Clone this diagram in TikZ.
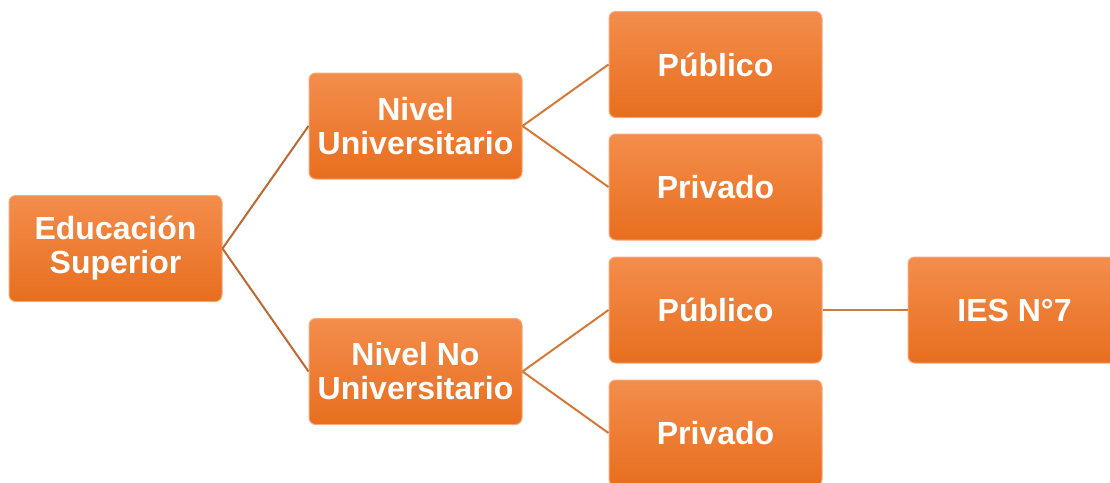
\documentclass[tikz,border=0pt]{standalone}
\usepackage{fontspec}
\setmainfont{Liberation Sans}

\tikzset{
    caja/.style={rounded corners=5pt, minimum width=159.75pt, minimum height=79.5pt,
        top color={rgb,255:red,243;green,141;blue,76}, bottom color={rgb,255:red,232;green,110;blue,30},
        draw={rgb,255:red,246;green,170;blue,120}, line width=0.75pt,
        text={rgb,255:red,255;green,255;blue,255}, align=center,
        font=\fontsize{24pt}{25.5pt}\selectfont\bfseries, inner sep=0pt},
    rama/.style={color={rgb,255:red,190;green,105;blue,50}, line width=1.5pt},
    subrama/.style={color={rgb,255:red,214;green,120;blue,55}, line width=1.5pt}
}

\begin{document}
\begin{tikzpicture}[x=0.75pt,y=0.75pt,yscale=-1,xscale=1]
        \useasboundingbox (0,0) rectangle (1110,482);

        %Rounded Rect [id:raiz]
        \node [caja] (edu) at (115.5,248.5) {Educación\\Superior};

        %Rounded Rect [id:niveles]
        \node [caja] (univ) at (415.5,126) {Nivel\\Universitario};
        \node [caja] (nouniv) at (415.5,371.5) {Nivel No\\Universitario};

        %Rounded Rect [id:gestion]
        \node [caja] (pub1) at (715.5,64.5) {Público};
        \node [caja] (priv1) at (715.5,187) {Privado};
        \node [caja] (pub2) at (715.5,310) {Público};
        \node [caja] (priv2) at (715.5,433) {Privado};

        %Rounded Rect [id:instituto]
        \node [caja] (ies) at (1014.5,310) {IES N°7};

        %Straight Lines [id:raiz-niveles]
        \draw [rama] (edu.east) -- (univ.west) ;
        \draw [rama] (edu.east) -- (nouniv.west) ;

        %Straight Lines [id:niveles-gestion]
        \draw [subrama] (univ.east) -- (pub1.west) ;
        \draw [subrama] (univ.east) -- (priv1.west) ;
        \draw [subrama] (nouniv.east) -- (pub2.west) ;
        \draw [subrama] (nouniv.east) -- (priv2.west) ;

        %Straight Lines [id:publico-ies]
        \draw [subrama] (pub2.east) -- (ies.west) ;
    \end{tikzpicture}
\end{document}
